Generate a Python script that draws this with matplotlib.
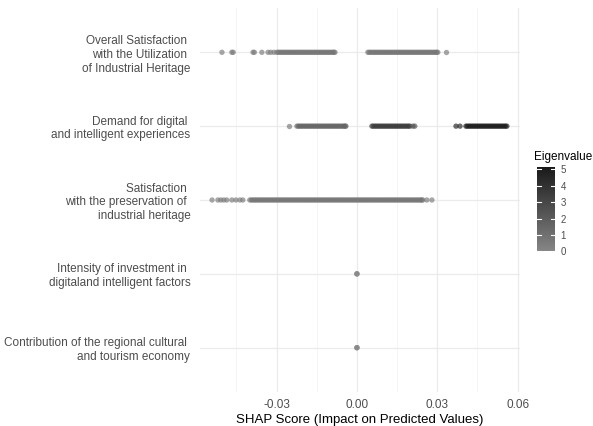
import numpy as np
import matplotlib
matplotlib.use("Agg")
import matplotlib.pyplot as plt
from matplotlib.colors import LinearSegmentedColormap, Normalize

plt.rcParams['font.family'] = ['Liberation Sans', 'DejaVu Sans']

features = [
    "Overall Satisfaction \nwith the Utilization \nof Industrial Heritage",
    "Demand for digital \nand intelligent experiences",
    "Satisfaction \nwith the preservation of \nindustrial heritage",
    "Intensity of investment in \ndigitaland intelligent factors",
    "Contribution of the regional cultural \nand tourism economy",
]

# --- Overall Satisfaction (SHAP values grouped in bands, one eigenvalue per band)
overall_bands = [
    [-0.0504, -0.0467, -0.0462, -0.0388, -0.0383, -0.0355, -0.0332, -0.0322, -0.0310],
    [-0.0299, -0.0293, -0.0288, -0.0282, -0.0277, -0.0271, -0.0266, -0.0260, -0.0255,
     -0.0249, -0.0244, -0.0238, -0.0233, -0.0227, -0.0222, -0.0216, -0.0211, -0.0205,
     -0.0200, -0.0194, -0.0189, -0.0183, -0.0178, -0.0172, -0.0167, -0.0161, -0.0156,
     -0.0150, -0.0145, -0.0139, -0.0134, -0.0128, -0.0123, -0.0117, -0.0112, -0.0106,
     -0.0101, -0.0095, -0.0090, -0.0086, -0.0082],
    [0.0041, 0.0046, 0.0052, 0.0057, 0.0063, 0.0068, 0.0074, 0.0079, 0.0085, 0.0090,
     0.0096, 0.0101, 0.0107, 0.0112, 0.0118, 0.0123, 0.0129, 0.0134, 0.0140, 0.0145,
     0.0151, 0.0156, 0.0162, 0.0167, 0.0173, 0.0178, 0.0184, 0.0189, 0.0195, 0.0200,
     0.0206, 0.0211, 0.0217, 0.0222, 0.0228, 0.0233, 0.0239, 0.0244, 0.0250, 0.0255,
     0.0261, 0.0266, 0.0272, 0.0277, 0.0283, 0.0288, 0.0294, 0.0298, 0.0302],
    [0.0332],
]
overall_eig = [0.6, 0.8, 0.8, 0.6]

# --- Demand for digital and intelligent experiences
demand_bands = [
    [-0.0254],
    [-0.0224, -0.0218, -0.0213, -0.0207, -0.0202, -0.0196, -0.0191, -0.0185, -0.0180,
     -0.0174, -0.0169, -0.0163, -0.0158, -0.0152, -0.0147, -0.0141, -0.0136, -0.0130,
     -0.0125, -0.0119, -0.0114, -0.0108, -0.0103, -0.0097, -0.0092, -0.0086, -0.0081,
     -0.0075, -0.0070, -0.0064, -0.0059, -0.0053, -0.0048, -0.0044, -0.0041],
    [0.0056, 0.0061, 0.0067, 0.0072, 0.0078, 0.0083, 0.0089, 0.0094, 0.0100, 0.0105,
     0.0111, 0.0116, 0.0122, 0.0127, 0.0133, 0.0138, 0.0144, 0.0149, 0.0155, 0.0160,
     0.0166, 0.0171, 0.0177, 0.0182, 0.0188, 0.0193, 0.0198],
    [0.0209, 0.0216],
    [0.0370, 0.0385],
    [0.0407, 0.0412, 0.0418, 0.0423, 0.0429, 0.0434, 0.0440, 0.0445, 0.0451, 0.0456,
     0.0462, 0.0467, 0.0473, 0.0478, 0.0484, 0.0489, 0.0495, 0.0500, 0.0506, 0.0511,
     0.0517, 0.0522, 0.0528, 0.0533, 0.0539, 0.0544, 0.0550, 0.0555, 0.0560],
]
demand_eig = [0.8, 1.6, 3.6, 2.5, 4.8, 5.0]

# --- Satisfaction with the preservation of industrial heritage
preserve_bands = [
    [-0.0541, -0.0519, -0.0508, -0.0497, -0.0486, -0.0467, -0.0452, -0.0437, -0.0426],
    [-0.0400, -0.0394, -0.0389, -0.0383, -0.0378, -0.0372, -0.0367, -0.0361, -0.0356,
     -0.0350, -0.0345, -0.0339, -0.0334, -0.0328, -0.0323, -0.0317, -0.0312, -0.0306,
     -0.0301, -0.0295, -0.0290, -0.0284, -0.0279, -0.0273, -0.0268, -0.0262, -0.0257,
     -0.0251, -0.0246, -0.0240, -0.0235, -0.0229, -0.0224, -0.0218, -0.0213, -0.0207,
     -0.0202, -0.0196, -0.0191, -0.0185, -0.0180, -0.0174, -0.0169, -0.0163, -0.0158,
     -0.0152, -0.0147, -0.0141, -0.0136, -0.0130, -0.0125, -0.0119, -0.0114, -0.0108,
     -0.0103, -0.0097, -0.0092, -0.0086, -0.0081, -0.0075, -0.0070, -0.0064, -0.0059,
     -0.0053, -0.0048, -0.0042, -0.0037, -0.0031, -0.0026, -0.0020, -0.0015, -0.0009,
     -0.0004, 0.0002, 0.0007, 0.0013, 0.0018, 0.0024, 0.0029, 0.0035, 0.0040, 0.0046,
     0.0051, 0.0057, 0.0062, 0.0068, 0.0073, 0.0079, 0.0084, 0.0090, 0.0095, 0.0101,
     0.0106, 0.0112, 0.0117, 0.0123, 0.0128, 0.0134, 0.0139, 0.0145, 0.0150, 0.0156,
     0.0161, 0.0167, 0.0172, 0.0178, 0.0183, 0.0189, 0.0194, 0.0200, 0.0205, 0.0211,
     0.0216, 0.0222, 0.0227, 0.0233, 0.0238, 0.0242, 0.0246],
    [0.0261, 0.0280],
]
preserve_eig = [0.6, 0.8, 0.6]

# --- Intensity of investment / regional contribution (all zero)
invest_bands = [[0.0, 0.0, 0.0]]
invest_eig = [0.0]
region_bands = [[0.0, 0.0, 0.0]]
region_eig = [0.0]

all_bands = [overall_bands, demand_bands, preserve_bands, invest_bands, region_bands]
all_eig = [overall_eig, demand_eig, preserve_eig, invest_eig, region_eig]

x_ticks = [-0.03, 0.00, 0.03, 0.06]
x_ticklabels = ["-0.03", "0.00", "0.03", "0.06"]
cbar_ticks = [0, 1, 2, 3, 4, 5]

W, H = 593, 426
fig = plt.figure(figsize=(W / 100, H / 100), dpi=100)
ax = fig.add_axes([200 / W, 1 - 392 / H, 320 / W, 384 / H])

cmap = LinearSegmentedColormap.from_list("eig", ["#868686", "#1a1a1a"])
norm = Normalize(vmin=0, vmax=5.1)

n = len(features)
for i, (bands, eigs) in enumerate(zip(all_bands, all_eig)):
    ypos = n - i
    for vals, e in zip(bands, eigs):
        xs = np.array(vals)
        ax.scatter(xs, np.full(len(xs), ypos), c=np.full(len(xs), e), cmap=cmap,
                   norm=norm, s=15, alpha=0.65, linewidths=0, zorder=3)

ax.set_xlim(-0.0586, 0.0609)
ax.set_ylim(0.4, n + 0.6)
ax.set_yticks(range(n, 0, -1))
ax.set_yticklabels(features, fontsize=8.5, color="#4d4d4d", ha="right")
ax.set_xticks(x_ticks)
ax.set_xticklabels(x_ticklabels, fontsize=8.5, color="#4d4d4d")
ax.set_xticks([-0.045, -0.015, 0.015, 0.045], minor=True)
ax.tick_params(axis="both", which="both", length=0)
ax.tick_params(axis="y", pad=7)
ax.tick_params(axis="x", pad=5)
ax.grid(True, which="major", color="#ebebeb", linewidth=0.9, zorder=0)
ax.grid(True, which="minor", axis="x", color="#f2f2f2", linewidth=0.6, zorder=0)
ax.set_axisbelow(True)
for s in ax.spines.values():
    s.set_visible(False)
ax.set_xlabel("SHAP Score (Impact on Predicted Values)", fontsize=9.5, color="black", labelpad=2)

# colorbar
cax = fig.add_axes([537 / W, 1 - 253 / H, 18 / W, 86 / H])
grad = np.linspace(0, 5.1, 256).reshape(-1, 1)
cax.imshow(grad, aspect="auto", cmap=cmap, norm=norm, origin="lower",
           extent=[0, 1, 0, 5.1])
cax.set_xlim(0, 1)
cax.set_ylim(-0.1, 5.15)
cax.set_xticks([])
cax.set_yticks(cbar_ticks)
cax.set_yticklabels([str(t) for t in cbar_ticks], fontsize=7, color="#4d4d4d")
cax.yaxis.tick_right()
for s in cax.spines.values():
    s.set_visible(False)
cax.tick_params(axis="y", length=0, pad=4)
for t in cbar_ticks:
    cax.plot([0, 0.2], [t, t], color="white", lw=0.8)
    cax.plot([0.8, 1], [t, t], color="white", lw=0.8)
fig.text(534 / W, 1 - 157 / H, "Eigenvalue", fontsize=8.5, color="black", va="center", ha="left")

fig.savefig("out.png", dpi=100, facecolor="white")
